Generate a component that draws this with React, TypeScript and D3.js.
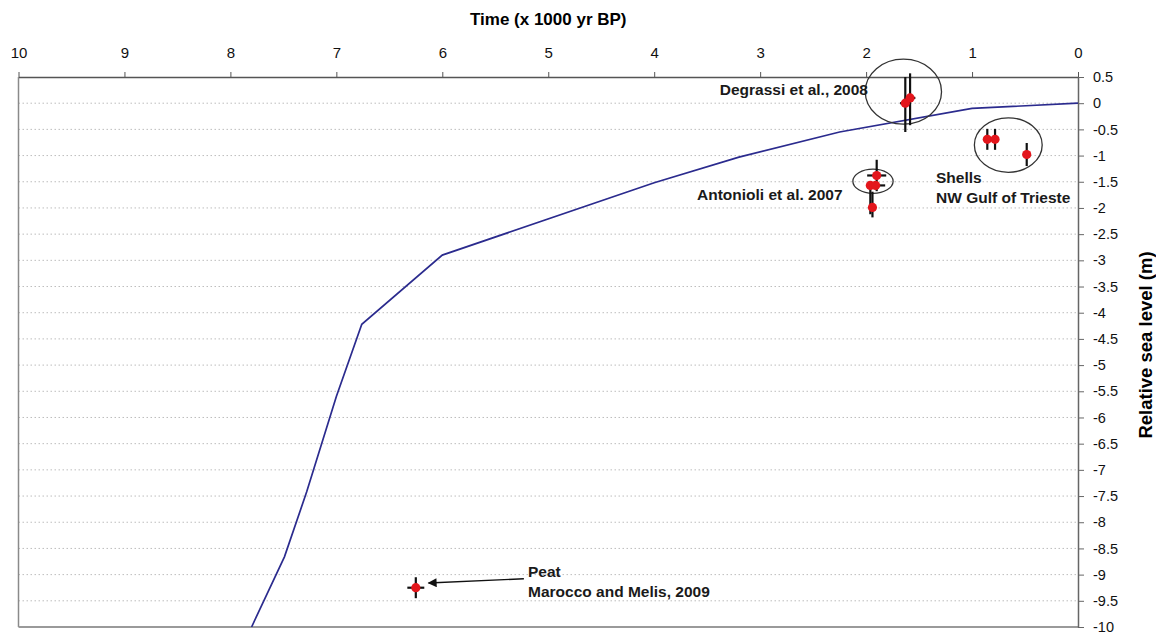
import { useEffect, useRef } from 'react'
import * as d3 from 'd3'

// axis ticks
const ageTicks = [10, 9, 8, 7, 6, 5, 4, 3, 2, 1, 0]
const levelTicks = [0.5, 0, -0.5, -1, -1.5, -2, -2.5, -3, -3.5, -4, -4.5, -5, -5.5, -6, -6.5, -7, -7.5, -8, -8.5, -9, -9.5, -10]

// sea level curve (kyr BP, m)
const curveAge = [0, 1, 2.25, 3.2, 4, 6, 6.76, 7.0, 7.28, 7.49, 7.8]
const curveLevel = [0, -0.1, -0.55, -1.03, -1.52, -2.9, -4.22, -5.6, -7.42, -8.66, -10]

// Degrassi et al., 2008
const degrassiAge = [1.63, 1.585]
const degrassiLevel = [0, 0.1]
const degrassiUp = [0.5, 0.47]
const degrassiDown = [0.55, 0.52]
const degrassiAgeErr = [0.05, 0.05]

// Antonioli et al. 2007
const antAge = [1.9, 1.96, 1.91, 1.94]
const antLevel = [-1.38, -1.57, -1.57, -1.99]
const antUp = [0.3, 0, 0, 0.3]
const antDown = [0.3, 0.55, 0, 0.19]
const antAgeErr = [0.09, 0, 0.09, 0]

// Shells NW Gulf of Trieste
const shellAge = [0.856, 0.783, 0.484]
const shellLevel = [-0.69, -0.69, -0.98]
const shellUp = [0.2, 0.2, 0.22]
const shellDown = [0.2, 0.2, 0.22]
const shellAgeErr = [0, 0, 0]

// Peat, Marocco and Melis, 2009
const peatAge = [6.25]
const peatLevel = [-9.25]
const peatUp = [0.2]
const peatDown = [0.2]
const peatAgeErr = [0.08]

// circled groups
const ringAge = [1.648, 1.935, 0.658]
const ringLevel = [0.22, -1.49, -0.8]
const ringRx = [0.36, 0.19, 0.32]
const ringRy = [0.62, 0.23, 0.52]

const FONT = '"Liberation Sans", Arial, Helvetica, sans-serif'

export default function App() {
  const ref = useRef<SVGSVGElement>(null)

  useEffect(() => {
    const width = 1156
    const height = 634
    const left = 18.5, right = 1078, top = 77, bottom = 627

    const svg = d3.select(ref.current)
    svg.selectAll('*').remove()
    svg.attr('width', width).attr('height', height).attr('viewBox', `0 0 ${width} ${height}`)

    const x = d3.scaleLinear().domain([10, 0]).range([left, right])
    const y = d3.scaleLinear().domain([-10, 0.5]).range([bottom, top])

    svg.append('rect').attr('width', width).attr('height', height).attr('fill', '#fff')

    // grid
    svg.append('g')
      .selectAll('line')
      .data(levelTicks.filter(v => v < 0.5 && v > -10))
      .join('line')
      .attr('x1', left).attr('x2', right)
      .attr('y1', d => y(d)).attr('y2', d => y(d))
      .attr('stroke', '#bdbdbd')
      .attr('stroke-width', 1)
      .attr('stroke-dasharray', '1.5,2.5')

    // frame
    svg.append('line').attr('x1', left).attr('x2', left).attr('y1', top).attr('y2', bottom)
      .attr('stroke', '#8a8a8a').attr('stroke-width', 1.5)
    svg.append('line').attr('x1', left).attr('x2', right).attr('y1', bottom).attr('y2', bottom)
      .attr('stroke', '#9a9a9a').attr('stroke-width', 2)

    // top axis
    const gx = svg.append('g')
      .attr('transform', `translate(0,${top})`)
      .call(d3.axisTop(x).tickValues(ageTicks).tickFormat(d3.format('d')).tickSize(5).tickPadding(14).tickSizeOuter(0))
    gx.select('.domain').attr('stroke', '#555').attr('stroke-width', 1.5)
    gx.selectAll('.tick line').attr('stroke', '#555')
    gx.selectAll('text').attr('font-family', FONT).attr('font-size', 15).attr('fill', '#111')

    // right axis
    const gy = svg.append('g')
      .attr('transform', `translate(${right},0)`)
      .call(d3.axisRight(y).tickValues(levelTicks).tickFormat(d => String(d)).tickSize(6).tickPadding(9).tickSizeOuter(0))
    gy.select('.domain').attr('stroke', '#666').attr('stroke-width', 1.5)
    gy.selectAll('.tick line').attr('stroke', '#666')
    gy.selectAll('text').attr('font-family', FONT).attr('font-size', 14.5).attr('fill', '#111')

    // titles
    svg.append('text')
      .attr('x', (left + right) / 2).attr('y', 25)
      .attr('text-anchor', 'middle')
      .attr('font-family', FONT).attr('font-weight', 'bold').attr('font-size', 17)
      .text('Time (x 1000 yr BP)')
    svg.append('text')
      .attr('transform', `translate(1152,${345}) rotate(-90)`)
      .attr('text-anchor', 'middle')
      .attr('font-family', FONT).attr('font-weight', 'bold').attr('font-size', 18.5)
      .text('Relative sea level (m)')

    // curve
    svg.append('clipPath').attr('id', 'plot-clip')
      .append('rect').attr('x', left).attr('y', top).attr('width', right - left).attr('height', bottom - top)
    const line = d3.line<number>().x(i => x(curveAge[i])).y(i => y(curveLevel[i]))
    svg.append('path')
      .attr('clip-path', 'url(#plot-clip)')
      .attr('d', line(d3.range(curveAge.length)))
      .attr('fill', 'none')
      .attr('stroke', '#2b2b8e')
      .attr('stroke-width', 1.7)

    // rings
    svg.append('g')
      .selectAll('ellipse')
      .data(ringAge.map((a, i) => i))
      .join('ellipse')
      .attr('cx', i => x(ringAge[i]))
      .attr('cy', i => y(ringLevel[i]))
      .attr('rx', i => Math.abs(x(ringAge[i] + ringRx[i]) - x(ringAge[i])))
      .attr('ry', i => Math.abs(y(ringLevel[i] + ringRy[i]) - y(ringLevel[i])))
      .attr('fill', 'none')
      .attr('stroke', '#333')
      .attr('stroke-width', 1.3)

    const sets = [
      [degrassiAge, degrassiLevel, degrassiUp, degrassiDown, degrassiAgeErr],
      [antAge, antLevel, antUp, antDown, antAgeErr],
      [shellAge, shellLevel, shellUp, shellDown, shellAgeErr],
      [peatAge, peatLevel, peatUp, peatDown, peatAgeErr],
    ]

    const bars = svg.append('g').attr('stroke', '#111').attr('stroke-width', 2.2)
    sets.forEach(([ages, levels, up, down, aErr]) => {
      ages.forEach((a, i) => {
        if (up[i] || down[i]) {
          bars.append('line')
            .attr('x1', x(a)).attr('x2', x(a))
            .attr('y1', y(levels[i] + up[i])).attr('y2', y(levels[i] - down[i]))
        }
        if (aErr[i]) {
          bars.append('line')
            .attr('x1', x(a + aErr[i])).attr('x2', x(a - aErr[i]))
            .attr('y1', y(levels[i])).attr('y2', y(levels[i]))
        }
      })
    })

    const dots = svg.append('g').attr('fill', '#e3161c')
    sets.forEach(([ages, levels]) => {
      ages.forEach((a, i) => {
        dots.append('circle').attr('cx', x(a)).attr('cy', y(levels[i])).attr('r', 4.6)
      })
    })

    // arrow to the peat sample
    svg.append('defs').append('marker')
      .attr('id', 'arrowhead')
      .attr('viewBox', '0 0 10 10')
      .attr('refX', 9).attr('refY', 5)
      .attr('markerWidth', 11).attr('markerHeight', 9)
      .attr('markerUnits', 'userSpaceOnUse')
      .attr('orient', 'auto')
      .append('path').attr('d', 'M0,0 L10,5 L0,10 Z').attr('fill', '#111')
    svg.append('line')
      .attr('x1', x(5.23)).attr('y1', y(-9.08))
      .attr('x2', x(6.13)).attr('y2', y(-9.16))
      .attr('stroke', '#111').attr('stroke-width', 1.4)
      .attr('marker-end', 'url(#arrowhead)')

    // annotations
    const note = (tx: number, ty: number, anchor: string, t: string) =>
      svg.append('text')
        .attr('x', tx).attr('y', ty)
        .attr('text-anchor', anchor)
        .attr('font-family', FONT).attr('font-weight', 'bold').attr('font-size', 15.5)
        .attr('fill', '#1a1a1a')
        .text(t)
    note(868, 95, 'end', 'Degrassi et al., 2008')
    note(697, 200, 'start', 'Antonioli et al. 2007')
    note(936, 183, 'start', 'Shells')
    note(936, 203, 'start', 'NW Gulf of Trieste')
    note(528, 577, 'start', 'Peat')
    note(528, 597, 'start', 'Marocco and Melis, 2009')
  }, [])

  return (
    <svg
      ref={ref}
      style={{ position: 'absolute', left: 0, top: 0, display: 'block' }}
      width={1156}
      height={634}
    />
  )
}
